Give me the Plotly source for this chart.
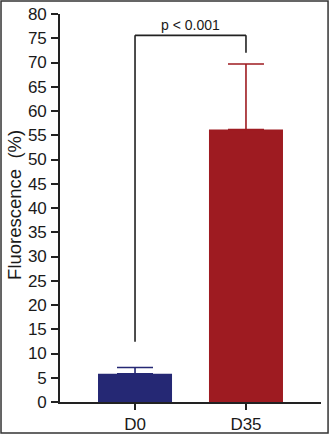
import plotly.graph_objects as go

categories = ["D0", "D35"]
means = [5.8, 56.2]
errors_up = [1.3, 13.5]
bar_colors = ["#252874", "#9e1b21"]

bracket_top = 75.6
bracket_left_end = 12.4
bracket_right_end = 72.0
p_label = "p < 0.001"
p_label_y = 77.7

fig = go.Figure()
for i, c in enumerate(categories):
    fig.add_trace(go.Bar(
        x=[c], y=[means[i]], width=0.667,
        marker=dict(color=bar_colors[i], line=dict(width=0)),
        error_y=dict(type="data", symmetric=False, array=[errors_up[i]], arrayminus=[0],
                     color=bar_colors[i], thickness=1.6, width=18),
        showlegend=False,
    ))

line_style = dict(color="#222222", width=1.6)
fig.add_shape(type="line", x0=0, x1=0, y0=bracket_left_end, y1=bracket_top, xref="x", yref="y", line=line_style)
fig.add_shape(type="line", x0=0, x1=1, y0=bracket_top, y1=bracket_top, xref="x", yref="y", line=line_style)
fig.add_shape(type="line", x0=1, x1=1, y0=bracket_right_end, y1=bracket_top, xref="x", yref="y", line=line_style)
fig.add_annotation(x=0.5, y=p_label_y, xref="x", yref="y", text=p_label, showarrow=False,
                   xanchor="center", yanchor="middle",
                   font=dict(family="Liberation Sans, Arial", size=14, color="#1a1a1a"))

# outer frame
fig.add_shape(type="rect", xref="paper", yref="paper", x0=-0.226, x1=1.027, y0=-0.0799, y1=1.0335,
              line=dict(color="#333333", width=1.5), fillcolor="rgba(0,0,0,0)")

fig.add_annotation(x=(15 - 60) / 261, y=0.508, xref="paper", yref="paper", text="Fluorescence  (%)",
                   textangle=-90, showarrow=False, xanchor="center", yanchor="middle",
                   font=dict(family="Liberation Sans, Arial", size=18.5, color="#1a1a1a"))

fig.update_layout(
    width=330, height=435,
    margin=dict(l=60, r=9, t=14, b=33),
    paper_bgcolor="white", plot_bgcolor="white",
    bargap=0.333,
    font=dict(family="Liberation Sans, Arial", size=17, color="#1a1a1a"),
)
fig.update_xaxes(type="category", range=[-0.676, 1.676], showline=True, linecolor="#222222", linewidth=1.6,
                 ticks="outside", ticklen=6, tickwidth=1.6, tickcolor="#222222", showgrid=False, zeroline=False,
                 tickfont=dict(size=17), automargin=False)
fig.update_yaxes(range=[0, 80], tickvals=list(range(0, 81, 5)), showline=True, linecolor="#222222", linewidth=1.6,
                 ticks="outside", ticklen=7, tickwidth=1.6, tickcolor="#222222", showgrid=False, zeroline=False,
                 tickfont=dict(size=17), ticklabelstandoff=1, automargin=False)

fig.write_html("out.html")
